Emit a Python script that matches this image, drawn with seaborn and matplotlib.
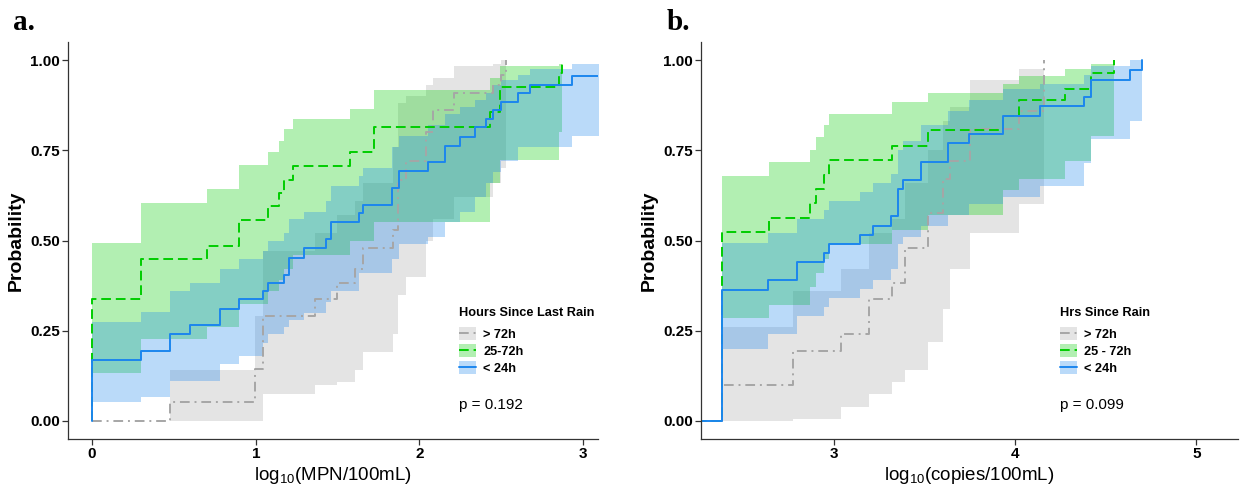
import matplotlib
matplotlib.use("Agg")
import matplotlib.pyplot as plt
import seaborn as sns
from matplotlib.patches import Patch
from matplotlib.lines import Line2D

# ---- panel a: log10(MPN/100mL), step curves with confidence bands ----
a_gt72_x = [0, 0.476, 0.996, 1.043, 1.362, 1.495, 1.607, 1.657, 1.84, 1.87, 1.92, 2.04, 2.085, 2.21, 2.45, 2.50, 2.53]
a_gt72_y = [0.0, 0.052, 0.144, 0.29, 0.337, 0.383, 0.42, 0.478, 0.53, 0.669, 0.72, 0.80, 0.862, 0.908, 0.93, 0.96, 1.0]
a_gt72_hi = [0.0, 0.14, 0.29, 0.47, 0.52, 0.57, 0.61, 0.66, 0.76, 0.88, 0.90, 0.93, 0.95, 0.985, 0.99, 1.0, 1.0]
a_gt72_lo = [0.0, 0.0, 0.0, 0.075, 0.10, 0.107, 0.14, 0.19, 0.24, 0.35, 0.40, 0.50, 0.56, 0.62, 0.66, 0.70, 1.0]

a_2572_x = [0, 0.30, 0.70, 0.90, 1.073, 1.144, 1.173, 1.23, 1.576, 1.72, 2.43, 2.49, 2.85, 2.87]
a_2572_y = [0.337, 0.4475, 0.484, 0.558, 0.595, 0.632, 0.668, 0.707, 0.744, 0.814, 0.857, 0.926, 0.963, 1.0]
a_2572_hi = [0.492, 0.604, 0.643, 0.710, 0.744, 0.777, 0.809, 0.836, 0.864, 0.917, 0.95, 0.985, 0.99, 1.0]
a_2572_lo = [0.134, 0.227, 0.26, 0.323, 0.36, 0.39, 0.42, 0.46, 0.50, 0.551, 0.66, 0.724, 0.80, 1.0]

a_lt24_x = [0, 0.30, 0.476, 0.60, 0.78, 0.90, 1.043, 1.073, 1.173, 1.203, 1.297, 1.43, 1.458, 1.633,
            1.657, 1.83, 1.877, 2.05, 2.156, 2.248, 2.34, 2.407, 2.45, 2.50, 2.60, 2.676, 2.93, 3.15]
a_lt24_y = [0.168, 0.194, 0.24, 0.265, 0.31, 0.337, 0.36, 0.383, 0.405, 0.452, 0.478, 0.503, 0.551, 0.576,
            0.599, 0.645, 0.694, 0.717, 0.762, 0.788, 0.814, 0.837, 0.862, 0.885, 0.908, 0.931, 0.956, 0.956]
a_lt24_hi = [0.273, 0.302, 0.36, 0.383, 0.42, 0.45, 0.47, 0.50, 0.52, 0.56, 0.58, 0.61, 0.65, 0.68,
             0.70, 0.76, 0.79, 0.82, 0.85, 0.87, 0.89, 0.91, 0.93, 0.945, 0.96, 0.975, 0.99, 0.99]
a_lt24_lo = [0.052, 0.065, 0.11, 0.11, 0.157, 0.18, 0.217, 0.24, 0.26, 0.28, 0.30, 0.33, 0.36, 0.41,
             0.41, 0.45, 0.49, 0.51, 0.55, 0.58, 0.62, 0.66, 0.69, 0.72, 0.76, 0.76, 0.79, 0.79]

# ---- panel b: log10(copies/100mL) ----
b_gt72_x = [2.383, 2.775, 3.04, 3.19, 3.32, 3.39, 3.52, 3.60, 3.64, 3.75, 4.018, 4.157]
b_gt72_y = [0.10, 0.194, 0.24, 0.337, 0.383, 0.478, 0.576, 0.67, 0.72, 0.81, 0.86, 1.0]
b_gt72_hi = [0.26, 0.36, 0.42, 0.52, 0.56, 0.66, 0.75, 0.83, 0.87, 0.945, 0.975, 1.0]
b_gt72_lo = [0.0, 0.005, 0.04, 0.075, 0.107, 0.14, 0.22, 0.31, 0.42, 0.52, 0.60, 1.0]

b_2572_x = [2.383, 2.643, 2.867, 2.90, 2.946, 2.974, 3.32, 3.52, 3.935, 4.018, 4.276, 4.42, 4.543]
b_2572_y = [0.523, 0.562, 0.603, 0.643, 0.682, 0.723, 0.762, 0.805, 0.846, 0.889, 0.92, 0.963, 1.0]
b_2572_hi = [0.68, 0.717, 0.75, 0.786, 0.82, 0.85, 0.883, 0.91, 0.935, 0.955, 0.975, 0.99, 1.0]
b_2572_lo = [0.286, 0.32, 0.37, 0.41, 0.45, 0.49, 0.53, 0.57, 0.64, 0.67, 0.72, 0.79, 1.0]

b_lt24_x = [2.383, 2.632, 2.794, 2.945, 2.974, 3.144, 3.217, 3.315, 3.355, 3.38, 3.48, 3.63, 3.742,
            3.935, 4.138, 4.378, 4.42, 4.635, 4.70]
b_lt24_y = [0.363, 0.39, 0.44, 0.466, 0.491, 0.516, 0.541, 0.567, 0.642, 0.668, 0.719, 0.77, 0.795,
            0.846, 0.872, 0.897, 0.945, 0.972, 1.0]
b_lt24_hi = [0.494, 0.52, 0.56, 0.585, 0.61, 0.635, 0.66, 0.685, 0.75, 0.775, 0.82, 0.86, 0.889,
             0.92, 0.935, 0.96, 0.985, 1.0, 1.0]
b_lt24_lo = [0.20, 0.24, 0.29, 0.315, 0.34, 0.365, 0.39, 0.42, 0.49, 0.51, 0.54, 0.57, 0.60,
             0.62, 0.65, 0.714, 0.78, 0.83, 1.0]

labels_a = ["> 72h", "25-72h", "< 24h"]
labels_b = ["> 72h", "25 - 72h", "< 24h"]
colors = ["#a6a6a6", "#00CD00", "#1C86EE"]
styles = [(0, (5, 2.5, 1, 2.5)), (0, (5, 2.5)), "-"]

sns.set_theme(style="ticks")
plt.rcParams["font.family"] = ["Liberation Sans", "DejaVu Sans"]
plt.rcParams["axes.edgecolor"] = "#333333"
plt.rcParams["xtick.color"] = "#333333"
plt.rcParams["ytick.color"] = "#333333"
plt.rcParams["text.color"] = "black"
plt.rcParams["axes.labelcolor"] = "black"

fig = plt.figure(figsize=(12.41, 4.87), dpi=100)
ax_a = fig.add_axes([0.0548, 0.0986, 0.427, 0.815])
ax_b = fig.add_axes([0.5649, 0.0986, 0.4327, 0.815])


def draw_panel(ax, curves, start):
    # bands first, then the step lines on top
    for (xs, ys, lo, hi), col in zip(curves, colors):
        ax.fill_between([start] + xs, [0] + lo, [0] + hi, step="post",
                        color=col, alpha=0.3, linewidth=0)
    for (xs, ys, lo, hi), col, ls in zip(curves, colors, styles):
        sns.lineplot(x=[start] + xs, y=[0] + ys, ax=ax, drawstyle="steps-post",
                     color=col, linewidth=1.4, linestyle=ls, sort=False, estimator=None)


def style_axis(ax, xlabel, title, labels, p, leg_x):
    ax.set_ylim(-0.05, 1.05)
    ax.set_yticks([0, 0.25, 0.5, 0.75, 1.0])
    ax.set_yticklabels(["0.00", "0.25", "0.50", "0.75", "1.00"])
    ax.set_ylabel("Probability", fontsize=14, fontweight="bold", labelpad=4)
    ax.set_xlabel(xlabel, fontsize=13.5, labelpad=3)
    ax.tick_params(length=4, width=0.9, pad=2, labelsize=11, labelcolor="black")
    for t in ax.get_xticklabels() + ax.get_yticklabels():
        t.set_fontweight("bold")
    for s in ["left", "bottom"]:
        ax.spines[s].set_linewidth(0.9)
    sns.despine(ax=ax)
    handles = [(Patch(facecolor=c, alpha=0.3, edgecolor="none"),
                Line2D([], [], color=c, linestyle=ls, linewidth=1.4))
               for c, ls in zip(colors, styles)]
    leg = ax.legend(handles, labels, title=title, loc="upper left", bbox_to_anchor=(leg_x, 0.333),
                    frameon=False, alignment="left", borderpad=0, borderaxespad=0,
                    handlelength=1.3, handleheight=1.2, handletextpad=0.6, labelspacing=0.25,
                    prop={"weight": "bold", "size": 9.2},
                    title_fontproperties={"weight": "bold", "size": 9.2})
    leg._legend_box.sep = 6  # a bit more room under the title
    ax.text(leg_x, 0.0856, p, transform=ax.transAxes, fontsize=11, va="center", ha="left")


draw_panel(ax_a, [(a_gt72_x, a_gt72_y, a_gt72_lo, a_gt72_hi),
                  (a_2572_x, a_2572_y, a_2572_lo, a_2572_hi),
                  (a_lt24_x, a_lt24_y, a_lt24_lo, a_lt24_hi)], 0.0)
ax_a.set_xlim(-0.147, 3.09)
ax_a.set_xticks([0, 1, 2, 3])
style_axis(ax_a, r"log$\mathregular{_{10}}$(MPN/100mL)", "Hours Since Last Rain",
           labels_a, "p = 0.192", 0.738)

draw_panel(ax_b, [(b_gt72_x, b_gt72_y, b_gt72_lo, b_gt72_hi),
                  (b_2572_x, b_2572_y, b_2572_lo, b_2572_hi),
                  (b_lt24_x, b_lt24_y, b_lt24_lo, b_lt24_hi)], 2.0)
ax_b.set_xlim(2.265, 5.23)
ax_b.set_xticks([3, 4, 5])
style_axis(ax_b, r"log$\mathregular{_{10}}$(copies/100mL)", "Hrs Since Rain",
           labels_b, "p = 0.099", 0.6685)

fig.text(0.0105, 0.938, "a.", fontsize=21, fontweight="bold",
         family=["Liberation Serif", "DejaVu Serif"], va="baseline")
fig.text(0.537, 0.938, "b.", fontsize=21, fontweight="bold",
         family=["Liberation Serif", "DejaVu Serif"], va="baseline")

fig.savefig("out.png", dpi=100)
